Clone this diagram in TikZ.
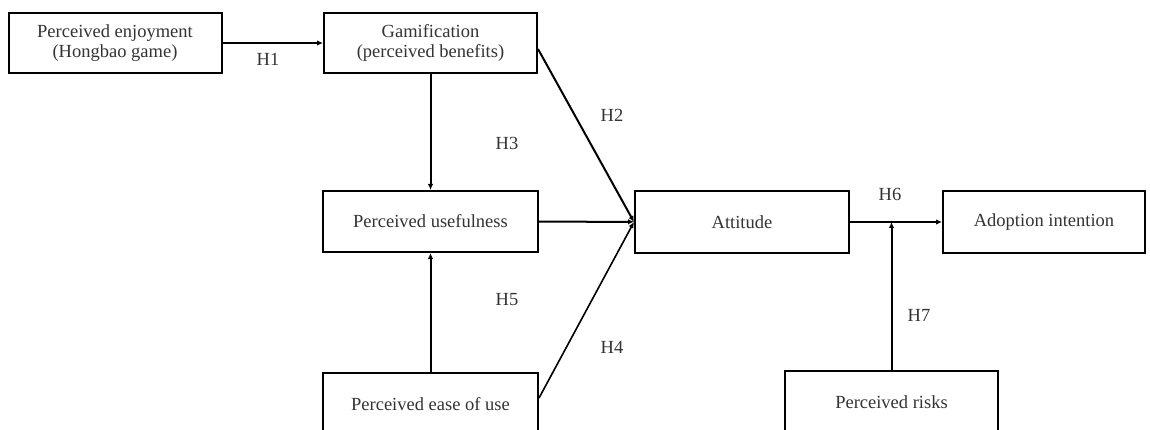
\documentclass[tikz,border=0pt]{standalone}
\usepackage{fontspec}
\setmainfont{Liberation Serif}
\usetikzlibrary{arrows.meta}
\begin{document}
\begin{tikzpicture}[x=1pt,y=-1pt,
  box/.style={draw,line width=2pt,inner sep=0pt,align=center,
    font=\fontsize{18.5}{20}\selectfont,text=black!80},
  arr/.style={line width=2pt,-{Latex[length=6pt,width=5.5pt]}},
  hlab/.style={font=\fontsize{18.5}{20}\selectfont,text=black!80}]
\useasboundingbox (0,0) rectangle (1150,430);
\clip (0,0) rectangle (1150,430);
\node[box,minimum width=213pt,minimum height=60pt] (enj) at (115,43) {Perceived enjoyment\\(Hongbao game)};
\node[box,minimum width=213pt,minimum height=60pt] (gam) at (430.5,43) {Gamification\\(perceived benefits)};
\node[box,minimum width=215pt,minimum height=61pt] (use) at (430.5,221.5) {Perceived usefulness};
\node[box,minimum width=214pt,minimum height=62pt] (att) at (742,222) {Attitude};
\node[box,minimum width=202pt,minimum height=62pt] (ado) at (1044,222) {Adoption intention};
\node[box,minimum width=213pt,minimum height=62pt] (risk) at (891.5,402) {Perceived risks};
\node[box,minimum width=215pt,minimum height=62pt] (ease) at (430.5,404) {Perceived ease of use};
\coordinate (j) at (risk.north |- att.east);
\draw[arr,line width=1.4pt] (enj) -- (gam);
\draw[arr] (gam) -- (use);
\draw[arr] (ease) -- (use);
\draw[arr] ([yshift=-6pt]gam.east) -- (att.west);
\draw[arr] (use) -- (att);
\draw[arr,line width=1.6pt] ([yshift=6pt]ease.east) -- (att.west);
\draw[arr] (att) -- (ado);
\draw[arr] (risk.north) -- (j);
\node[hlab] (h1) at (268,59) {H1};
\node[hlab] (h2) at (612,115) {H2};
\node[hlab] (h3) at (507,143) {H3};
\node[hlab] (h4) at (612,347) {H4};
\node[hlab] (h5) at (507,300) {H5};
\node[hlab] (h6) at (890,194) {H6};
\node[hlab] (h7) at (919,315) {H7};
\end{tikzpicture}
\end{document}
